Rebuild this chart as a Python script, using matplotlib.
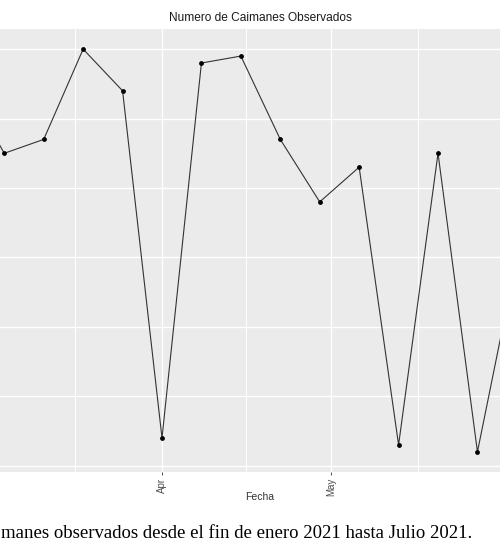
import datetime as dt
import matplotlib
matplotlib.use("Agg")
import matplotlib.pyplot as plt
import matplotlib.dates as mdates
from matplotlib.ticker import FixedLocator

# weekly counts (the view is cropped: first and last values only show as line stubs)
fechas = ["2021-02-25", "2021-03-04", "2021-03-11", "2021-03-18", "2021-03-25",
          "2021-04-01", "2021-04-08", "2021-04-15", "2021-04-22", "2021-04-29",
          "2021-05-06", "2021-05-13", "2021-05-20", "2021-05-27", "2021-06-03"]
caimanes = [55, 45, 47, 60, 54, 4, 58, 59, 47, 38, 43, 3, 45, 2, 30]

mes_ticks = ["2021-03-01", "2021-04-01", "2021-05-01", "2021-06-01"]
mes_labels = ["Mar", "Apr", "May", "Jun"]
y_breaks = [0, 10, 20, 30, 40, 50, 60]

titulo = "Numero de Caimanes Observados"
eje_x = "Fecha"
leyenda = "manes observados desde el fin de enero 2021 hasta Julio 2021."

x = [dt.datetime.strptime(f, "%Y-%m-%d") for f in fechas]
meses = [dt.datetime.strptime(f, "%Y-%m-%d") for f in mes_ticks]
medios = [meses[i] + (meses[i + 1] - meses[i]) / 2 for i in range(len(meses) - 1)]

W, H = 500, 550
fig = plt.figure(figsize=(W / 100, H / 100), dpi=100)
fig.patch.set_facecolor("white")

top, bottom = 29, 472
ax = fig.add_axes([0, (H - bottom) / H, 1.0, (bottom - top) / H])
ax.set_facecolor("#EBEBEB")
for s in ax.spines.values():
    s.set_visible(False)

# x scale: Apr 1 sits at px 162, 5.633 px per day
abr = dt.datetime(2021, 4, 1)
ppd = 5.633
ax.set_xlim(mdates.date2num(abr) - 162 / ppd, mdates.date2num(abr) + (W - 162) / ppd)
ax.set_ylim(-0.9, 62.9)

ax.xaxis.set_major_locator(FixedLocator(mdates.date2num(meses)))
ax.xaxis.set_minor_locator(FixedLocator(mdates.date2num(medios)))
ax.set_xticklabels(mes_labels, rotation=90, fontsize=7, color="#4D4D4D",
                   family="Liberation Sans")
ax.set_yticks(y_breaks)
ax.tick_params(axis="x", which="major", length=2.5, width=0.6, color="#333333", pad=1.5)
ax.tick_params(axis="x", which="minor", length=0)
ax.tick_params(axis="y", left=False, labelleft=False)

ax.grid(True, which="major", color="white", linewidth=1.0)
ax.grid(True, which="minor", axis="x", color="white", linewidth=0.7)
ax.set_axisbelow(True)

ax.plot(x, caimanes, color="#333333", linewidth=0.8)
ax.scatter(x, caimanes, s=6, color="black", zorder=3)

fig.text(260 / W, 1 - 18 / H, titulo, ha="center", va="center", fontsize=8.6,
         family="Liberation Sans", color="#1a1a1a")
fig.text(260 / W, 1 - 497 / H, eje_x, ha="center", va="center", fontsize=7.5,
         family="Liberation Sans", color="#333333")
fig.text(472 / W, 1 - 533 / H, leyenda, ha="right", va="center", fontsize=13.5,
         family="Liberation Serif", color="black")

fig.savefig("out.png", dpi=100)
